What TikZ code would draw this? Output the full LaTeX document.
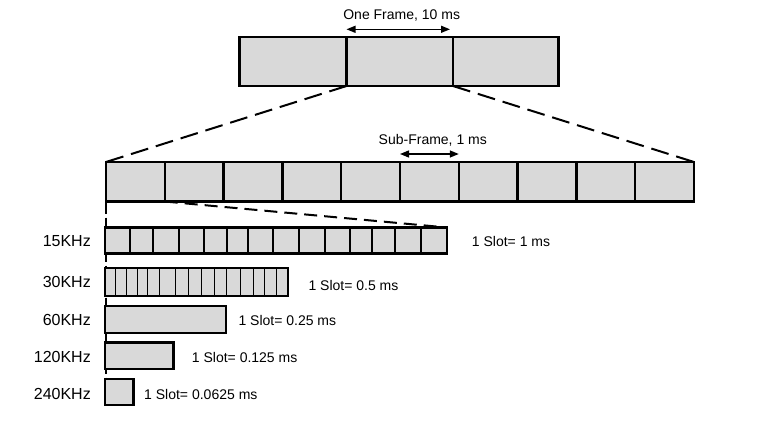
\documentclass[tikz,border=0pt]{standalone}
\usepackage{fontspec}
\setmainfont{Liberation Sans}
\usetikzlibrary{arrows.meta}
\definecolor{boxgray}{RGB}{217,217,217}
\begin{document}
\begin{tikzpicture}[x=1pt,y=-1pt,
 box/.style={draw=black, fill=boxgray, line width=2.4pt, inner sep=0pt, outer sep=0pt, anchor=north west},
 freqlabel/.style={font=\fontsize{16}{18}\selectfont, anchor=east, inner sep=0pt},
 slotlabel/.style={font=\fontsize{14}{16}\selectfont, anchor=west, inner sep=0pt},
 titlelabel/.style={font=\fontsize{14}{16}\selectfont, inner sep=0pt},
 bigdash/.style={line width=2pt, dash pattern=on 18pt off 8pt},
 smalldash/.style={line width=2pt, dash pattern=on 13pt off 7pt},
 vdash/.style={line width=2pt, dash pattern=on 12pt off 4pt},
 span/.style={line width=1.3pt, {Triangle[length=9pt,width=7pt]}-{Triangle[length=9pt,width=7pt]}},
 thindiv/.style={line width=1pt},
 middiv/.style={line width=1.8pt},
]
\useasboundingbox (0,0) rectangle (763,431);

% top frame
\node[box, minimum width=107pt, minimum height=49pt] (f1) at (239.5,37) {};
\node[box, minimum width=106.5pt, minimum height=49pt] (f2) at (f1.north east) {};
\node[box, minimum width=105.5pt, minimum height=49pt] (f3) at (f2.north east) {};
\node[titlelabel] (tf) at (401.7,16) {One Frame, 10 ms};
\draw[span] ([yshift=7.7pt]f2.north west) -- ([yshift=7.7pt,xshift=-3pt]f2.north east);

% sub-frames
\foreach \i in {1,...,10}
  \node[box, minimum width=58.8pt, minimum height=39.5pt] (sf\i) at ({106+(\i-1)*58.8},162) {};
\node[titlelabel] (tsf) at (432.8,140) {Sub-Frame, 1 ms};
\draw[span] ([yshift=8pt]sf6.north west) -- ([yshift=8pt]sf6.north east);

% zoom lines
\draw[bigdash] (f2.south west) -- (sf1.north west);
\draw[bigdash] (f2.south east) -- (sf10.north east);
\coordinate (vend) at (106,378);
\draw[vdash] (sf1.south west) -- (vend);

% numerology rows
\node[box, minimum width=342pt, minimum height=26pt] (r15) at (105,227.5) {};
\foreach \d in {25,48.3,74.3,99.3,121.7,143.3,168.3,194.3,220,245,266.7,290,316}
  \draw[middiv] ([xshift=\d pt]r15.north west) -- ([xshift=\d pt]r15.south west);

\node[box, minimum width=183pt, minimum height=28pt] (r30) at (105,268) {};
\foreach \d in {10.5,21,32,42.7,54.5,70.5,83.3,96.3,109,121.7,135,148,159.7,171}
  \draw[thindiv] ([xshift=\d pt]r30.north west) -- ([xshift=\d pt]r30.south west);

\node[box, minimum width=121pt, minimum height=27pt] (r60) at (105,306) {};
\node[box, minimum width=68.5pt, minimum height=26.5pt] (r120) at (105,342.5) {};
\node[box, minimum width=28.5pt, minimum height=26pt] (r240) at (105,379) {};

\draw[smalldash] (sf2.south west) -- (r15.north east);

% labels
\node[freqlabel] (l15) at (91,241) {15KHz};
\node[freqlabel] (l30) at (91,282) {30KHz};
\node[freqlabel] (l60) at (91,320) {60KHz};
\node[freqlabel] (l120) at (91,356.7) {120KHz};
\node[freqlabel] (l240) at (91,394) {240KHz};

\node[slotlabel] (t15) at (471.7,241) {1 Slot= 1 ms};
\node[slotlabel] (t30) at (308.3,285) {1 Slot= 0.5 ms};
\node[slotlabel] (t60) at (238.3,320) {1 Slot= 0.25 ms};
\node[slotlabel] (t120) at (191.7,357) {1 Slot= 0.125 ms};
\node[slotlabel] (t240) at (144,394) {1 Slot= 0.0625 ms};
\end{tikzpicture}
\end{document}
